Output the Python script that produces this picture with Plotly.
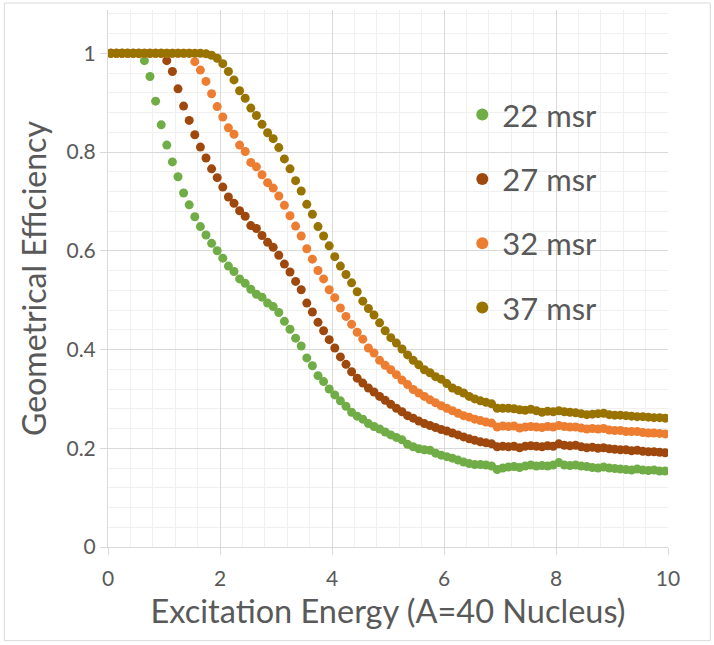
import plotly.graph_objects as go

# Excitation energy bin centres (0.05 ... 9.95, step 0.1)
energy = [round(0.05 + 0.1 * i, 2) for i in range(100)]

eff_22 = [1.0, 1.0, 1.0, 1.0, 1.0, 1.0, 0.985, 0.953, 0.903, 0.855,
          0.814, 0.780, 0.750, 0.717, 0.693, 0.669, 0.649, 0.632, 0.615, 0.600,
          0.585, 0.569, 0.558, 0.543, 0.534, 0.522, 0.512, 0.506, 0.494, 0.487,
          0.475, 0.457, 0.441, 0.423, 0.407, 0.383, 0.367, 0.347, 0.335, 0.320,
          0.308, 0.296, 0.285, 0.273, 0.265, 0.259, 0.250, 0.244, 0.239, 0.233,
          0.227, 0.222, 0.217, 0.208, 0.203, 0.199, 0.197, 0.196, 0.190, 0.186,
          0.183, 0.180, 0.176, 0.172, 0.169, 0.167, 0.167, 0.166, 0.164, 0.157,
          0.160, 0.162, 0.163, 0.161, 0.164, 0.166, 0.164, 0.165, 0.164, 0.166,
          0.171, 0.166, 0.165, 0.166, 0.164, 0.163, 0.161, 0.160, 0.162, 0.160,
          0.159, 0.158, 0.157, 0.156, 0.158, 0.156, 0.155, 0.156, 0.154, 0.154]

eff_27 = [1.0, 1.0, 1.0, 1.0, 1.0, 1.0, 1.0, 1.0, 1.0, 1.0,
          0.985, 0.963, 0.928, 0.893, 0.864, 0.835, 0.810, 0.788, 0.766, 0.748,
          0.729, 0.709, 0.696, 0.681, 0.670, 0.651, 0.645, 0.631, 0.617, 0.607,
          0.591, 0.573, 0.557, 0.538, 0.521, 0.494, 0.476, 0.455, 0.438, 0.420,
          0.403, 0.385, 0.370, 0.355, 0.342, 0.332, 0.322, 0.314, 0.305, 0.297,
          0.289, 0.281, 0.274, 0.266, 0.261, 0.255, 0.250, 0.246, 0.242, 0.238,
          0.235, 0.231, 0.227, 0.223, 0.219, 0.216, 0.213, 0.211, 0.209, 0.203,
          0.204, 0.203, 0.204, 0.201, 0.204, 0.205, 0.204, 0.203, 0.205, 0.204,
          0.209, 0.206, 0.205, 0.206, 0.203, 0.201, 0.202, 0.200, 0.201, 0.199,
          0.198, 0.197, 0.197, 0.195, 0.196, 0.194, 0.193, 0.193, 0.192, 0.191]

eff_32 = [1.0, 1.0, 1.0, 1.0, 1.0, 1.0, 1.0, 1.0, 1.0, 1.0,
          1.0, 1.0, 1.0, 1.0, 1.0, 0.983, 0.966, 0.943, 0.918, 0.892,
          0.871, 0.849, 0.836, 0.814, 0.801, 0.779, 0.770, 0.754, 0.738, 0.727,
          0.711, 0.692, 0.671, 0.650, 0.630, 0.604, 0.583, 0.560, 0.543, 0.521,
          0.505, 0.484, 0.467, 0.451, 0.435, 0.421, 0.403, 0.393, 0.378, 0.368,
          0.359, 0.349, 0.338, 0.329, 0.319, 0.312, 0.305, 0.298, 0.292, 0.286,
          0.281, 0.276, 0.271, 0.266, 0.263, 0.259, 0.256, 0.253, 0.251, 0.243,
          0.245, 0.244, 0.245, 0.241, 0.243, 0.244, 0.243, 0.242, 0.244, 0.243,
          0.246, 0.244, 0.243, 0.243, 0.241, 0.239, 0.240, 0.239, 0.240, 0.237,
          0.236, 0.236, 0.234, 0.234, 0.234, 0.232, 0.231, 0.231, 0.230, 0.229]

eff_37 = [1.0, 1.0, 1.0, 1.0, 1.0, 1.0, 1.0, 1.0, 1.0, 1.0,
          1.0, 1.0, 1.0, 1.0, 1.0, 1.0, 1.0, 0.999, 0.996, 0.990,
          0.979, 0.963, 0.946, 0.924, 0.909, 0.889, 0.874, 0.856, 0.839, 0.827,
          0.809, 0.786, 0.766, 0.742, 0.721, 0.694, 0.674, 0.649, 0.630, 0.610,
          0.588, 0.569, 0.552, 0.535, 0.517, 0.498, 0.483, 0.470, 0.454, 0.438,
          0.424, 0.413, 0.401, 0.389, 0.378, 0.369, 0.359, 0.353, 0.345, 0.340,
          0.331, 0.322, 0.317, 0.312, 0.305, 0.300, 0.296, 0.293, 0.290, 0.281,
          0.281, 0.281, 0.280, 0.278, 0.277, 0.279, 0.276, 0.273, 0.275, 0.274,
          0.276, 0.274, 0.273, 0.272, 0.270, 0.268, 0.269, 0.270, 0.271, 0.268,
          0.267, 0.267, 0.266, 0.265, 0.264, 0.264, 0.263, 0.262, 0.262, 0.261]

series_names = ["22 msr", "27 msr", "32 msr", "37 msr"]
series_values = [eff_22, eff_27, eff_32, eff_37]
series_colors = ["#70AD47", "#9E480E", "#ED7D31", "#997300"]

x_ticks = [0, 2, 4, 6, 8, 10]
y_ticks = [0, 0.2, 0.4, 0.6, 0.8, 1]
y_tick_text = ["0", "0.2", "0.4", "0.6", "0.8", "1"]

FONT = "Lato"
TXT = "#595959"
GRID = "#D9D9D9"
MINOR = "#F0F0F0"

fig = go.Figure()
for name, vals, col in zip(series_names, series_values, series_colors):
    fig.add_trace(go.Scatter(
        x=energy, y=vals, mode="markers", name=name, legendgroup=name,
        marker=dict(color=col, size=9, line=dict(width=0)),
    ))

W, H = 714, 645
ml, mr, mt, mb = 107.7, 46.3, 10, 97.7
plot_w = W - ml - mr
plot_h = H - mt - mb
y_max = 1 + (53.3 - mt) / 494.0


def px2paper_x(px):
    return (px - ml) / plot_w


def py2paper_y(py):
    return (H - mb - py) / plot_h


fig.update_layout(
    width=W, height=H,
    margin=dict(l=ml, r=mr, t=mt, b=mb, pad=0),
    paper_bgcolor="white", plot_bgcolor="white",
    font=dict(family=FONT, color=TXT, size=21),
    showlegend=True,
    legend=dict(
        x=px2paper_x(462), y=py2paper_y(88), xanchor="left", yanchor="top",
        bgcolor="rgba(0,0,0,0)", borderwidth=0,
        font=dict(family=FONT, size=31, color=TXT),
        tracegroupgap=21, traceorder="grouped", itemsizing="constant",
    ),
    xaxis=dict(
        range=[0, 10], tickvals=x_ticks, ticktext=[str(v) for v in x_ticks],
        showgrid=True, gridcolor=GRID, gridwidth=1,
        minor=dict(dtick=0.4, showgrid=True, gridcolor=MINOR, gridwidth=1),
        showline=True, linecolor=GRID, linewidth=1,
        ticks="outside", ticklen=7, tickcolor=GRID, ticklabelstandoff=6,
        zeroline=False, tickfont=dict(size=21, color=TXT),
        title=dict(text="Excitation Energy (A=40 Nucleus)",
                   font=dict(size=32.5, color=TXT), standoff=11),
    ),
    yaxis=dict(
        range=[0, y_max],
        tickvals=y_ticks, ticktext=y_tick_text,
        showgrid=True, gridcolor=GRID, gridwidth=1,
        minor=dict(dtick=0.04, showgrid=True, gridcolor=MINOR, gridwidth=1),
        showline=True, linecolor=GRID, linewidth=1,
        ticks="outside", ticklen=7, tickcolor=GRID,
        zeroline=False, tickfont=dict(size=21, color=TXT),
        title=dict(text="Geometrical Efficiency",
                   font=dict(size=32, color=TXT), standoff=10),
    ),
    shapes=[
        dict(type="rect", xref="paper", yref="paper", layer="between",
             x0=px2paper_x(428), x1=px2paper_x(637),
             y0=py2paper_y(338), y1=py2paper_y(85),
             fillcolor="white", line=dict(width=0)),
        dict(type="rect", xref="paper", yref="paper", layer="above",
             x0=px2paper_x(4), x1=px2paper_x(710),
             y0=py2paper_y(641), y1=py2paper_y(3),
             fillcolor="rgba(0,0,0,0)", line=dict(width=1, color=GRID)),
    ],
)

fig.write_html("out.html")
